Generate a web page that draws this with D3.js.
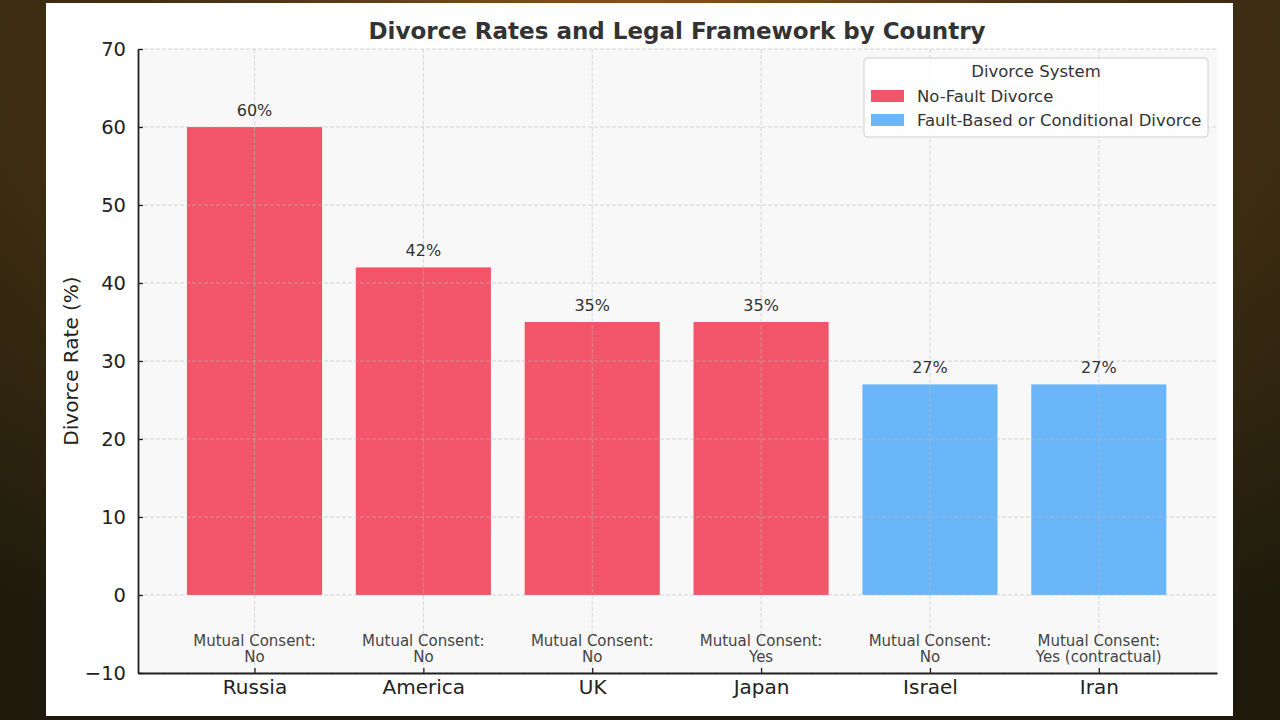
<!DOCTYPE html>
<html>
<head>
<meta charset="utf-8">
<script src="https://cdn.jsdelivr.net/npm/d3@7"></script>
<style>
  body { margin: 0; width: 1280px; height: 720px; overflow: hidden; font-family: "DejaVu Sans", sans-serif; }
</style>
</head>
<body>
<div id="chart-area"></div>
<script>
// chart data
let countries = ["Russia", "America", "UK", "Japan", "Israel", "Iran"];
let rates = [60, 42, 35, 35, 27, 27];
let systems = ["No-Fault Divorce", "No-Fault Divorce", "No-Fault Divorce", "No-Fault Divorce",
	"Fault-Based or Conditional Divorce", "Fault-Based or Conditional Divorce"];
let consent = ["No", "No", "No", "Yes", "No", "Yes (contractual)"];
let yTicks = [-10, 0, 10, 20, 30, 40, 50, 60, 70];
let legendItems = ["No-Fault Divorce", "Fault-Based or Conditional Divorce"];

let width = 1280, height = 720;

let svg = d3.select("#chart-area").append("svg")
	.attr("width", width)
	.attr("height", height);

// painting-ish dark backdrop
let defs = svg.append("defs");
let grad = defs.append("radialGradient").attr("id", "bg").attr("cx", "50%").attr("cy", "10%").attr("r", "90%");
grad.append("stop").attr("offset", "0%").attr("stop-color", "#a0581a");
grad.append("stop").attr("offset", "35%").attr("stop-color", "#4a3414");
grad.append("stop").attr("offset", "100%").attr("stop-color", "#1d1a0c");
svg.append("rect").attr("width", width).attr("height", height).attr("fill", "url(#bg)");

// white card
svg.append("rect")
	.attr("x", 46).attr("y", 3)
	.attr("width", 1187).attr("height", 713)
	.attr("fill", "#ffffff");

let margin = {top: 49, right: 63, bottom: 47, left: 138};
let plotW = width - margin.left - margin.right,
	plotH = height - margin.top - margin.bottom;

let g = svg.append("g")
	.attr("transform", "translate(" + margin.left + "," + margin.top + ")");

let x = d3.scaleLinear()
	.domain([-0.69, countries.length - 1 + 0.7])
	.range([0, plotW]);

let y = d3.scaleLinear()
	.domain([-10, 70])
	.range([plotH, 0]);

let color = d3.scaleOrdinal()
	.domain(legendItems)
	.range(["#f25469", "#6bb6f8"]);

let barW = x(0.4) - x(-0.4);

g.append("rect")
	.attr("width", plotW).attr("height", plotH)
	.attr("fill", "#f8f8f8");

// bars
g.selectAll(".bar").data(countries)
	.enter().append("rect")
	.attr("class", "bar")
	.attr("x", (d, i) => x(i) - barW / 2)
	.attr("width", barW)
	.attr("y", (d, i) => y(rates[i]))
	.attr("height", (d, i) => y(0) - y(rates[i]))
	.attr("fill", (d, i) => color(systems[i]));

// grid on top
g.selectAll(".hgrid").data(yTicks)
	.enter().append("line")
	.attr("x1", 0).attr("x2", plotW)
	.attr("y1", d => y(d)).attr("y2", d => y(d))
	.attr("stroke", "#bbbbbb").attr("stroke-opacity", 0.7)
	.attr("stroke-dasharray", "4,2").attr("stroke-width", 0.8);

g.selectAll(".vgrid").data(countries)
	.enter().append("line")
	.attr("x1", (d, i) => x(i)).attr("x2", (d, i) => x(i))
	.attr("y1", 0).attr("y2", plotH)
	.attr("stroke", "#bbbbbb").attr("stroke-opacity", 0.7)
	.attr("stroke-dasharray", "4,2").attr("stroke-width", 0.8);

// value labels
g.selectAll(".val").data(countries)
	.enter().append("text")
	.attr("x", (d, i) => x(i))
	.attr("y", (d, i) => y(rates[i]) - 11)
	.attr("text-anchor", "middle")
	.attr("font-size", 16)
	.attr("fill", "#333")
	.text((d, i) => rates[i] + "%");

// mutual consent notes
countries.forEach((c, i) => {
	let t = g.append("text")
		.attr("x", x(i))
		.attr("y", y(-5.8) + 6)
		.attr("text-anchor", "middle")
		.attr("font-size", 15)
		.attr("fill", "#444");
	t.append("tspan").attr("x", x(i)).text("Mutual Consent:");
	t.append("tspan").attr("x", x(i)).attr("dy", 16).text(consent[i]);
});

// axes
let yAxis = d3.axisLeft(y).tickValues(yTicks).tickSizeInner(-5).tickSizeOuter(0).tickPadding(12)
	.tickFormat(d => d < 0 ? "\u2212" + Math.abs(d) : d);
let yG = g.append("g").attr("class", "axis y-axis").call(yAxis);

let xAxis = d3.axisBottom(x).tickValues(d3.range(countries.length)).tickSizeInner(-5).tickSizeOuter(0).tickPadding(7)
	.tickFormat(i => countries[i]);
let xG = g.append("g").attr("class", "axis x-axis")
	.attr("transform", "translate(0," + plotH + ")")
	.call(xAxis);

[yG, xG].forEach(a => {
	a.select(".domain").attr("stroke", "#222").attr("stroke-width", 1.8);
	a.selectAll(".tick line").attr("stroke", "#222").attr("stroke-width", 1.3);
	a.selectAll(".tick text").attr("font-size", 19.5).attr("fill", "#222").attr("font-family", "DejaVu Sans");
});
xG.selectAll(".tick text").attr("font-size", 20);

// titles
svg.append("text")
	.attr("x", 677).attr("y", 39)
	.attr("text-anchor", "middle")
	.attr("font-size", 23).attr("font-weight", "bold")
	.attr("fill", "#333")
	.text("Divorce Rates and Legal Framework by Country");

svg.append("text")
	.attr("transform", "translate(78," + (margin.top + y(30)) + ") rotate(-90)")
	.attr("text-anchor", "middle")
	.attr("font-size", 20)
	.attr("fill", "#222")
	.text("Divorce Rate (%)");

// legend
let lg = svg.append("g").attr("transform", "translate(864,58)");
lg.append("rect")
	.attr("width", 344).attr("height", 79).attr("rx", 3)
	.attr("fill", "#ffffff").attr("fill-opacity", 0.85)
	.attr("stroke", "#d0d0d0");
lg.append("text")
	.attr("x", 172).attr("y", 19)
	.attr("text-anchor", "middle")
	.attr("font-size", 16.5).attr("fill", "#333")
	.text("Divorce System");
legendItems.forEach((d, i) => {
	lg.append("rect")
		.attr("x", 7).attr("y", 32 + i * 24)
		.attr("width", 33).attr("height", 12)
		.attr("fill", color(d));
	lg.append("text")
		.attr("x", 53).attr("y", 44 + i * 24)
		.attr("font-size", 16.5).attr("fill", "#333")
		.text(d);
});
</script>
</body>
</html>
